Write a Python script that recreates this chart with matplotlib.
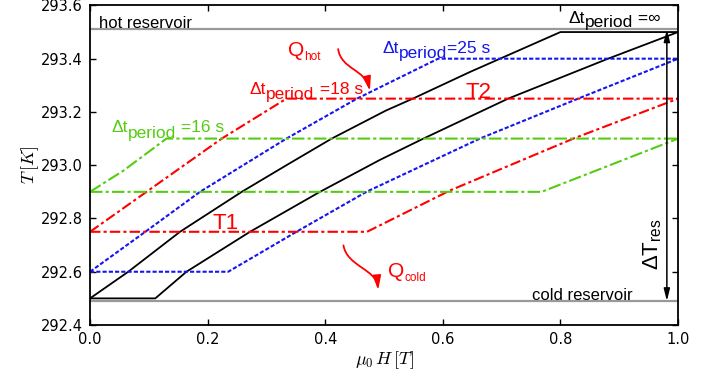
import numpy as np
import matplotlib.pyplot as plt
from matplotlib.patches import FancyArrowPatch
from matplotlib.path import Path

plt.rcParams['font.family'] = ['Liberation Sans', 'DejaVu Sans']
plt.rcParams['mathtext.fontset'] = 'custom'
plt.rcParams['mathtext.rm'] = 'Liberation Sans'
plt.rcParams['mathtext.it'] = 'Liberation Sans:italic'

# reservoir temperatures [K]
T_hot = 293.51
T_cold = 292.49

# dt_period = inf (black, solid)
H_inf_hot = [0.0, 0.065, 0.153, 0.258, 0.334, 0.411, 0.503, 0.549, 0.646, 0.80, 1.0]
T_inf_hot = [292.50, 292.60, 292.75, 292.90, 293.00, 293.10, 293.205, 293.25, 293.35, 293.50, 293.50]
H_inf_cold = [0.0, 0.111, 0.164, 0.272, 0.391, 0.493, 0.567, 0.711, 0.881, 1.0]
T_inf_cold = [292.50, 292.50, 292.60, 292.75, 292.90, 293.02, 293.10, 293.25, 293.40, 293.50]

# dt_period = 25 s (blue, dotted)
H_25_hot = [0.0, 0.094, 0.187, 0.334, 0.454, 0.592, 1.0]
T_25_hot = [292.60, 292.75, 292.90, 293.10, 293.25, 293.40, 293.40]
H_25_cold = [0.0, 0.235, 0.351, 0.47, 0.663, 0.83, 1.0]
T_25_cold = [292.60, 292.60, 292.75, 292.90, 293.10, 293.25, 293.40]

# dt_period = 18 s (red, dash-dot)
H_18_hot = [0.0, 0.096, 0.224, 0.334, 1.0]
T_18_hot = [292.75, 292.90, 293.10, 293.25, 293.25]
H_18_cold = [0.0, 0.471, 0.612, 0.822, 1.0]
T_18_cold = [292.75, 292.75, 292.905, 293.10, 293.25]

# dt_period = 16 s (green, dash-dot)
H_16_hot = [0.0, 0.057, 0.13, 1.0]
T_16_hot = [292.90, 292.98, 293.10, 293.10]
H_16_cold = [0.0, 0.768, 1.0]
T_16_cold = [292.90, 292.90, 293.10]

red = '#ff0000'
blue = '#1515f0'
green = '#55cc11'

fig = plt.figure(figsize=(7.15, 3.74), dpi=100)
ax = fig.add_axes([0.1259, 0.131, 0.8224, 0.8545])

ax.axhline(T_hot, color='#999999', lw=1.6, zorder=1)
ax.axhline(T_cold, color='#999999', lw=1.6, zorder=1)

ax.plot(H_inf_hot, T_inf_hot, color='k', lw=1.3)
ax.plot(H_inf_cold, T_inf_cold, color='k', lw=1.3)

ax.plot(H_25_hot, T_25_hot, color=blue, lw=1.5, ls=(0, (2, 1)))
ax.plot(H_25_cold, T_25_cold, color=blue, lw=1.5, ls=(0, (2, 1)))

ax.plot(H_18_hot, T_18_hot, color=red, lw=1.5, ls=(0, (5, 1.5, 1.5, 1.5)))
ax.plot(H_18_cold, T_18_cold, color=red, lw=1.5, ls=(0, (5, 1.5, 1.5, 1.5)))

ax.plot(H_16_hot, T_16_hot, color=green, lw=1.5, ls=(0, (6, 1.5, 1.5, 1.5)))
ax.plot(H_16_cold, T_16_cold, color=green, lw=1.5, ls=(0, (6, 1.5, 1.5, 1.5)))

ax.set_xlim(0, 1.0)
ax.set_ylim(292.4, 293.6)
ax.set_xticks(np.arange(0, 1.01, 0.2))
ax.set_yticks(np.arange(292.4, 293.61, 0.2))
ax.set_xticklabels(['0.0', '0.2', '0.4', '0.6', '0.8', '1.0'])
ax.set_yticklabels(['292.4', '292.6', '292.8', '293.0', '293.2', '293.4', '293.6'])
ax.tick_params(direction='in', top=True, right=True, length=4, width=1,
               labelsize=10.5, labelfontfamily='DejaVu Sans', pad=5)
for s in ax.spines.values():
    s.set_linewidth(1.3)

ax.set_xlabel(r'$\mu_0\,H\,[T]$', fontsize=13, math_fontfamily='cm', labelpad=2)
ax.set_ylabel(r'$T\,[K]$', fontsize=13, math_fontfamily='cm', labelpad=0)


def sub_text(x, y, main, sub, rest, color, size, sub_size, drop):
    t0 = ax.text(x, y, main, color=color, fontsize=size, ha='left', va='baseline')
    t1 = ax.annotate(sub, xy=(1, y), xycoords=(t0, 'data'), xytext=(0, -drop),
                     textcoords='offset points', color=color, fontsize=sub_size,
                     ha='left', va='baseline')
    if rest:
        ax.annotate(rest, xy=(1, y), xycoords=(t1, 'data'), color=color,
                    fontsize=size, ha='left', va='baseline')


sub_text(0.498, 293.422, 'Δt', 'period', '=25 s', blue, 12.5, 12.5, 4)
sub_text(0.272, 293.268, 'Δt', 'period', ' =18 s', red, 12.5, 12.5, 4)
sub_text(0.037, 293.124, 'Δt', 'period', ' =16 s', green, 12.5, 12.5, 4)
sub_text(0.813, 293.534, 'Δt', 'period', ' =∞', 'k', 12.5, 12.5, 3)
sub_text(0.337, 293.409, 'Q', 'hot', '', red, 15, 8.5, 2.5)
sub_text(0.507, 292.581, 'Q', 'cold', '', red, 15, 8.5, 3)

ax.text(0.209, 292.761, 'T1', color=red, fontsize=16, ha='left', va='baseline')
ax.text(0.638, 293.253, 'T2', color=red, fontsize=16, ha='left', va='baseline')

ax.text(0.015, T_hot + 0.005, 'hot reservoir', fontsize=12, ha='left', va='baseline')
ax.text(0.751, T_cold + 0.005, 'cold reservoir', fontsize=12, ha='left', va='baseline')

ax.text(0.976, 292.705, r'$\mathrm{ΔT}_{\mathrm{res}}$', fontsize=16, rotation=90,
        ha='right', va='center')
ax.annotate('', xy=(0.981, T_cold), xytext=(0.981, T_hot),
            arrowprops=dict(arrowstyle='<|-|>,head_length=0.6,head_width=0.15',
                            color='k', lw=1.1, shrinkA=0, shrinkB=0,
                            mutation_scale=12))

# curved heat-flow arrows
for p in ([(0.422, 293.436), (0.427, 293.36), (0.468, 293.36), (0.476, 293.279)],
          [(0.431, 292.699), (0.437, 292.62), (0.487, 292.61), (0.490, 292.531)]):
    path = Path(p, [Path.MOVETO, Path.CURVE4, Path.CURVE4, Path.CURVE4])
    ax.add_patch(FancyArrowPatch(path=path, arrowstyle='-|>,head_length=0.7,head_width=0.2',
                                 mutation_scale=12, color=red, lw=1.3))

fig.savefig('out.png', dpi=100)
